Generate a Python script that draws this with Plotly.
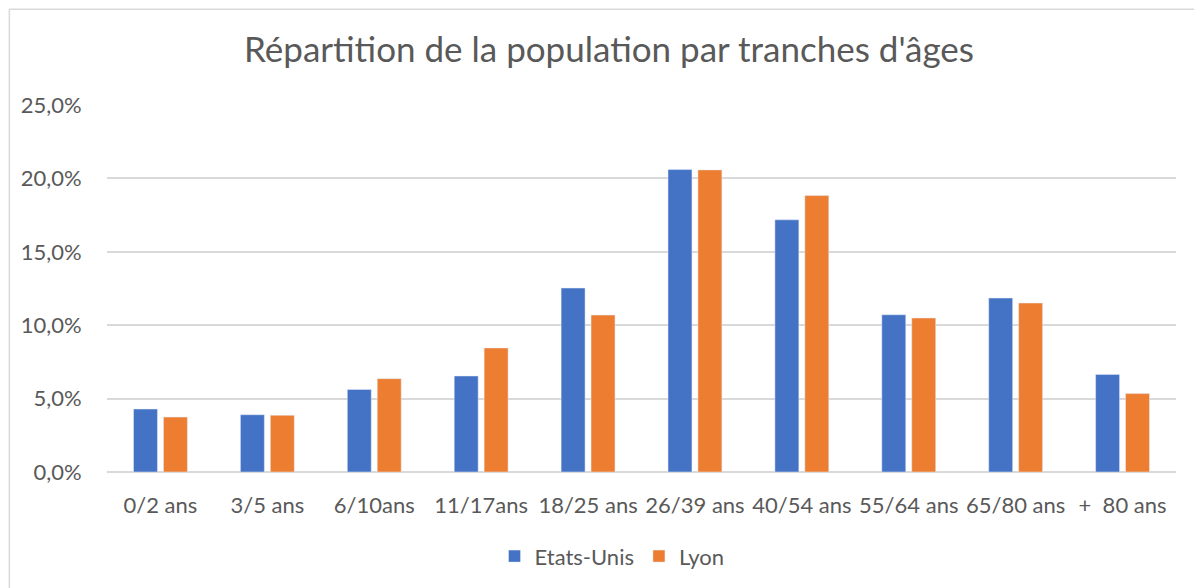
import plotly.graph_objects as go

categories = ["0/2 ans", "3/5 ans", "6/10ans", "11/17ans", "18/25 ans", "26/39 ans",
              "40/54 ans", "55/64 ans", "65/80 ans", "+  80 ans"]
etats_unis = [4.29, 3.90, 5.62, 6.54, 12.53, 20.60, 17.18, 10.71, 11.85, 6.65]
lyon = [3.74, 3.86, 6.36, 8.45, 10.69, 20.58, 18.83, 10.49, 11.51, 5.34]
y_ticks = [0, 5, 10, 15, 20, 25]
y_tick_labels = ["0,0%", "5,0%", "10,0%", "15,0%", "20,0%", "25,0%"]

W, H = 1202, 588
OFF = 8  # page body margin
# target plot area in page pixels
PL, PR, PT, PB = 106.5, 1176.5, 104.7, 472.5
L = PL - OFF
T = PT - OFF
R = W - (PR - OFF)
B = H - (PB - OFF)
pw, ph = PR - PL, PB - PT

fig = go.Figure()
fig.add_trace(go.Bar(name="Etats-Unis", x=categories, y=etats_unis, marker_color="#4472C4"))
fig.add_trace(go.Bar(name="Lyon", x=categories, y=lyon, marker_color="#ED7D31"))

font_fam = "Lato, 'Open Sans', sans-serif"
grey = "#595959"

def px_x(x):
    return (x - PL) / pw

def px_y(y):
    return (PB - y) / ph

fig.update_layout(
    width=W, height=H,
    margin=dict(l=L, r=R, t=T, b=B, autoexpand=False),
    paper_bgcolor="white", plot_bgcolor="white",
    barmode="group", bargap=0.44, bargroupgap=0.2,
    title=dict(text="Répartition de la population par tranches d'âges",
               x=0.5, xref="container", xanchor="center",
               y=1 - (50 - OFF) / H, yanchor="middle",
               font=dict(family=font_fam, size=35, color=grey)),
    font=dict(family=font_fam, color=grey),
    showlegend=True,
    legend=dict(orientation="h", x=px_x(612), xanchor="center",
                y=px_y(557), yanchor="middle",
                font=dict(family=font_fam, size=22, color=grey), itemwidth=30,
                traceorder="normal"),
    xaxis=dict(showgrid=False, showline=False, ticks="outside", ticklen=14,
               tickcolor="rgba(0,0,0,0)", tickangle=0,
               tickfont=dict(family=font_fam, size=22, color=grey)),
    yaxis=dict(range=[0, 25], tickvals=y_ticks, ticktext=y_tick_labels,
               showgrid=True, gridcolor="#D9D9D9", gridwidth=1.5,
               zeroline=True, zerolinecolor="#D9D9D9", zerolinewidth=1.5,
               showline=False, ticks="outside", ticklen=20, tickcolor="rgba(0,0,0,0)",
               tickfont=dict(family=font_fam, size=22, color=grey)),
    shapes=[
        dict(type="line", xref="paper", yref="paper", x0=px_x(8.8), x1=px_x(1215),
             y0=px_y(8.8), y1=px_y(8.8), line=dict(color="#D9D9D9", width=1.5)),
        dict(type="line", xref="paper", yref="paper", x0=px_x(8.8), x1=px_x(8.8),
             y0=px_y(8.8), y1=px_y(600), line=dict(color="#D9D9D9", width=1.5)),
    ],
)

fig.write_html("out.html")
